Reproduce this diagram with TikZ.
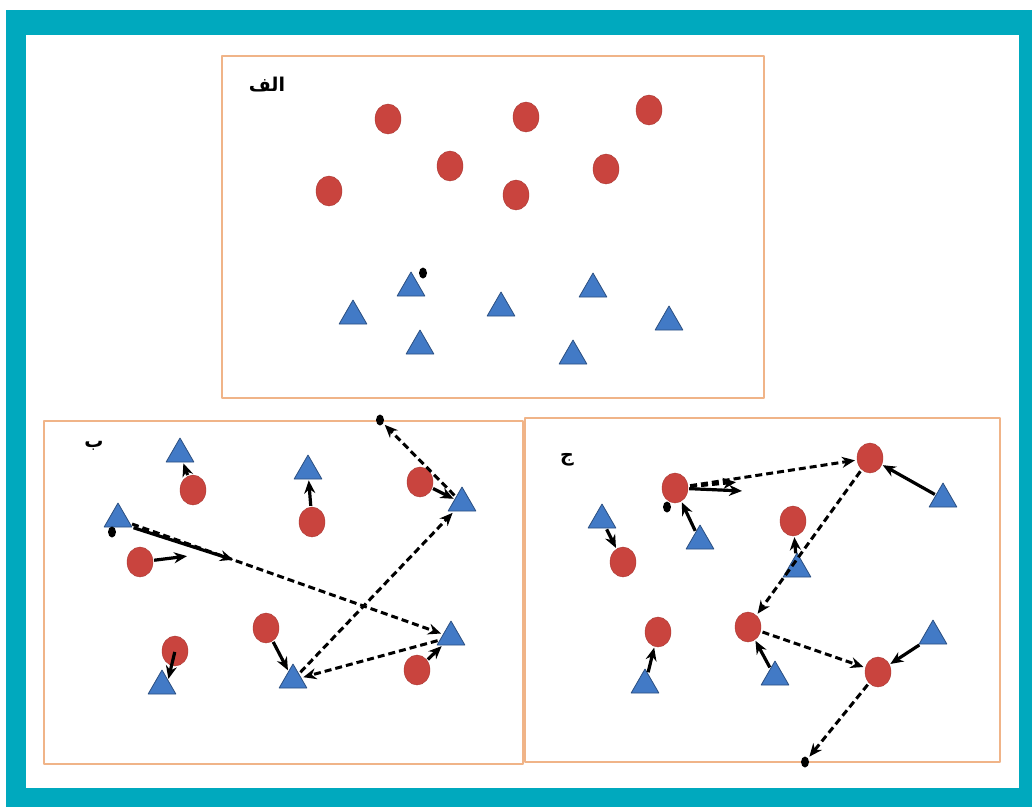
\documentclass[tikz,border=0pt]{standalone}
\usepackage{fontspec}
\newfontfamily\arabicfont[Script=Arabic]{DejaVu Sans}
\TeXXeTstate=1
\usetikzlibrary{arrows.meta,shapes.geometric}
\definecolor{framecol}{RGB}{0,169,190}
\definecolor{boxcol}{RGB}{240,180,136}
\definecolor{dotred}{RGB}{201,68,62}
\definecolor{triblue}{RGB}{66,122,198}
\tikzset{
  every picture/.style={line join=round, >={Stealth[length=13pt,width=11pt]}},
  reddot/.style={ellipse, fill=dotred, draw=dotred!85!black, minimum width=26, minimum height=30, inner sep=0pt},
  bluetri/.style={regular polygon, regular polygon sides=3, fill=triblue, draw=triblue!65!black, line width=0.8pt, minimum size=32, inner sep=0pt},
  blackdot/.style={ellipse, fill=black, minimum width=8, minimum height=11, inner sep=0pt},
  panelbox/.style={draw=boxcol, line width=2.2pt},
  panellabel/.style={font=\arabicfont\bfseries\fontsize{19}{21}\selectfont},
  walkarrow/.style={->, line width=3.2pt, shorten >=1pt, shorten <=1pt},
  jumparrow/.style={->, line width=3pt, dash pattern=on 7pt off 4pt, shorten >=2pt, shorten <=2pt},
}

\begin{document}
\begin{tikzpicture}[x=1pt,y=-1pt]
\useasboundingbox (0,0) rectangle (1032,807);
\fill[framecol] (6,10) rectangle (1032,807);
\fill[white] (26,35) rectangle (1019,788);
\draw[panelbox] (222,56) rectangle (764,398);
\draw[panelbox] (44,421) rectangle (523,764);
\draw[panelbox] (525,418) rectangle (1000,762);

\node[panellabel] (la) at (267,85) {\beginR الف\endR};
\node[panellabel] (lb) at (94,446) {\beginR ب\endR};
\node[panellabel] (lc) at (567,460) {\beginR ج\endR};

\node[reddot] (ac1) at (388,119) {};
\node[reddot] (ac2) at (526,117) {};
\node[reddot] (ac3) at (649,110) {};
\node[reddot] (ac4) at (450,166) {};
\node[reddot] (ac5) at (606,169) {};
\node[reddot] (ac6) at (329,191) {};
\node[reddot] (ac7) at (516,195) {};
\node[bluetri] (at1) at (411,288) {};
\node[bluetri] (at2) at (593,289) {};
\node[bluetri] (at3) at (353,316) {};
\node[bluetri] (at4) at (501,308) {};
\node[bluetri] (at5) at (669,322) {};
\node[bluetri] (at6) at (420,346) {};
\node[bluetri] (at7) at (573,356) {};
\node[blackdot] (ad1) at (423,273) {};

\node[reddot] (bc1) at (193,490) {};
\node[reddot] (bc2) at (312,522) {};
\node[reddot] (bc3) at (420,482) {};
\node[reddot] (bc4) at (140,562) {};
\node[reddot] (bc5) at (266,628) {};
\node[reddot] (bc6) at (417,670) {};
\node[reddot] (bc7) at (175,651) {};
\node[bluetri] (bt1) at (180,454) {};
\node[bluetri] (bt2) at (308,471) {};
\node[bluetri] (bt3) at (462,503) {};
\node[bluetri] (bt4) at (118,519) {};
\node[bluetri] (bt5) at (451,637) {};
\node[bluetri] (bt6) at (293,680) {};
\node[bluetri] (bt7) at (162,686) {};
\node[blackdot] (bd1) at (380,420) {};
\node[blackdot] (bd2) at (112,532) {};
\coordinate (bp1) at (234,560);
\coordinate (bp2) at (188,556);

\draw[walkarrow] (bc1) -- (bt1);
\draw[walkarrow] (bc2) -- (bt2);
\draw[walkarrow] (bc3) -- (bt3);
\draw[walkarrow] (bt4.corner 3) -- (bp1);
\draw[walkarrow] (bc4) -- (bp2);
\draw[walkarrow] (bc5) -- (bt6);
\draw[walkarrow] (bc6) -- (bt5);
\draw[walkarrow] (bc7.center) -- (bt7.north east);
\draw[jumparrow] (bt3) -- (bd1);
\draw[jumparrow] (bt4) -- (bt5);
\draw[jumparrow] (bt6) -- (bt3);
\draw[jumparrow] (bt5) -- (bt6);

\node[reddot] (cc1) at (675,488) {};
\node[reddot] (cc2) at (870,458) {};
\node[reddot] (cc3) at (623,562) {};
\node[reddot] (cc4) at (793,521) {};
\node[reddot] (cc5) at (748,627) {};
\node[reddot] (cc6) at (658,632) {};
\node[reddot] (cc7) at (878,672) {};
\node[bluetri] (ct1) at (943,499) {};
\node[bluetri] (ct2) at (700,541) {};
\node[bluetri] (ct3) at (602,520) {};
\node[bluetri] (ct4) at (797,569) {};
\node[bluetri] (ct5) at (775,677) {};
\node[bluetri] (ct6) at (645,685) {};
\node[bluetri] (ct7) at (933,636) {};
\node[blackdot] (cd1) at (667,507) {};
\node[blackdot] (cd2) at (805,762) {};
\coordinate (cp1) at (743,491);
\coordinate (cp2) at (738,482);

\draw[walkarrow] (cc1) -- (cp1);
\draw[walkarrow] (ct1) -- (cc2);
\draw[walkarrow] (ct2) -- (cc1);
\draw[walkarrow] (ct3) -- (cc3);
\draw[walkarrow] (ct4) -- (cc4);
\draw[walkarrow] (ct5) -- (cc5);
\draw[walkarrow] (ct6) -- (cc6);
\draw[walkarrow] (ct7) -- (cc7);
\draw[jumparrow] (cc1) -- (cp2);
\draw[jumparrow] (cc1) -- (cc2);
\draw[jumparrow] (cc2) -- (cc5);
\draw[jumparrow] (cc5) -- (cc7);
\draw[jumparrow] (cc7) -- (cd2);
\end{tikzpicture}
\end{document}
